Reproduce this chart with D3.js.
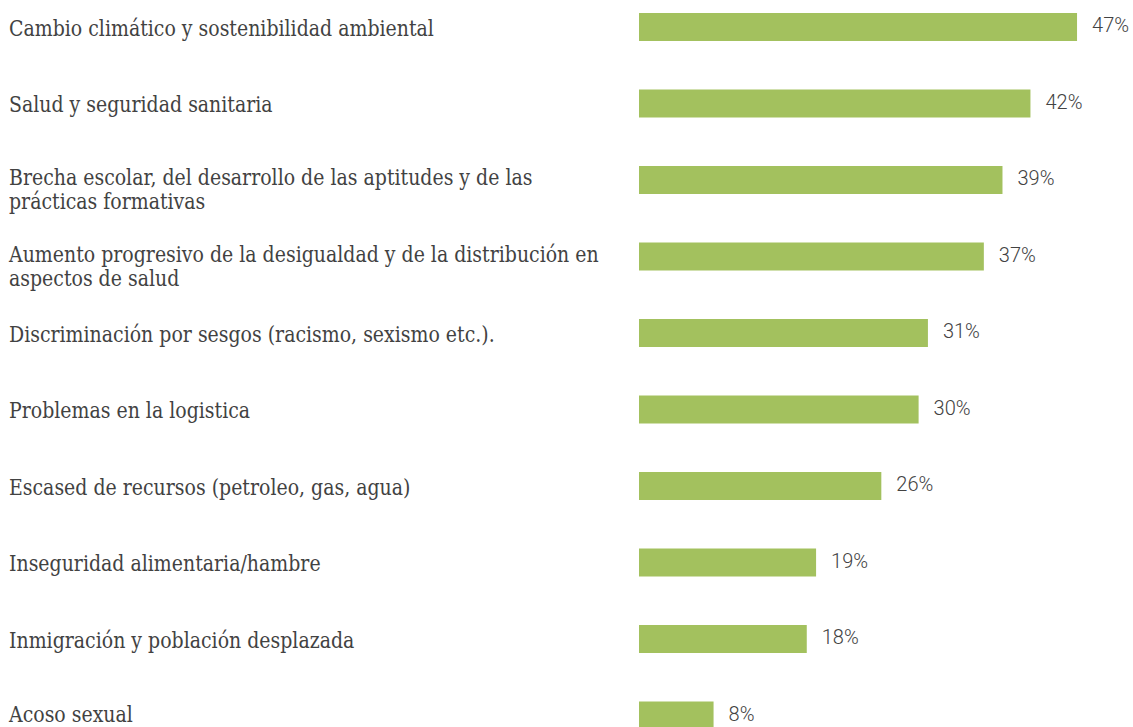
<!DOCTYPE html>
<html>
<head>
<meta charset="utf-8">
<script src="https://cdn.jsdelivr.net/npm/d3@7"></script>
<style>
  html, body { margin: 0; padding: 0; background: #ffffff; }
  svg { display: block; }
</style>
</head>
<body>
<svg id="chart" width="1133" height="727"></svg>
<script>
// Category labels (each entry is the list of lines drawn for that row)
const categories = [
  ["Cambio climático y sostenibilidad ambiental"],
  ["Salud y seguridad sanitaria"],
  ["Brecha escolar, del desarrollo de las aptitudes y de las", "prácticas formativas"],
  ["Aumento progresivo de la desigualdad y de la distribución en", "aspectos de salud"],
  ["Discriminación por sesgos (racismo, sexismo etc.)."],
  ["Problemas en la logistica"],
  ["Escased de recursos (petroleo, gas, agua)"],
  ["Inseguridad alimentaria/hambre"],
  ["Inmigración y población desplazada"],
  ["Acoso sexual"]
];

// Share of respondents, in percent
const values = [47, 42, 39, 37, 31, 30, 26, 19, 18, 8];

// Value labels shown next to each bar
const valueLabels = ["47%", "42%", "39%", "37%", "31%", "30%", "26%", "19%", "18%", "8%"];

const rows = categories.map((lines, i) => ({ id: i, lines, value: values[i], label: valueLabels[i] }));

const svg = d3.select("#chart");

const barColor = "#a3c15e";
const textColor = "#424242";

// Horizontal value scale
const x = d3.scaleLinear().domain([0, 50]).range([639, 639 + 466]);

// Row bands: 28px bars on a ~76.5px step
const rowStep = 76.5;
const barHeight = 28;
const inner = 1 - barHeight / rowStep;
const y = d3.scaleBand()
  .domain(rows.map(d => d.id))
  .range([13, 13 + 9 * rowStep + barHeight])
  .paddingInner(inner)
  .paddingOuter(0);

// Bars
svg.append("g")
  .selectAll("rect")
  .data(rows)
  .join("rect")
  .attr("x", x(0))
  .attr("y", d => y(d.id))
  .attr("width", d => x(d.value) - x(0))
  .attr("height", y.bandwidth())
  .attr("fill", barColor);

// Category labels: a serif narrowed horizontally so the longest
// line spans ~590px
const catG = svg.append("g")
  .attr("font-family", "'DejaVu Serif', serif")
  .attr("font-size", 22.5)
  .attr("fill", textColor);

const probe = catG.append("text").text(categories[3][0]);
const squeeze = 590 / probe.node().getComputedTextLength();
probe.remove();
catG.attr("transform", `translate(9,0) scale(${squeeze},1)`);

catG.selectAll("text")
  .data(rows)
  .join("text")
  .attr("x", 0)
  .attr("y", d => Math.min(y(d.id) + y.bandwidth() / 2 + 9 - (d.lines.length - 1) * 3.5, 722))
  .each(function(d) {
    const t = d3.select(this);
    d.lines.forEach((line, k) => {
      t.append("tspan")
        .attr("x", 0)
        .attr("dy", k === 0 ? 0 : 24)
        .text(line);
    });
  });

// Value labels
svg.append("g")
  .attr("font-family", "Roboto, sans-serif")
  .attr("font-weight", 300)
  .attr("font-size", 20)
  .attr("fill", textColor)
  .selectAll("text")
  .data(rows)
  .join("text")
  .attr("x", d => x(d.value) + 15)
  .attr("y", d => y(d.id) + y.bandwidth() / 2 + 5)
  .text(d => d.label);
</script>
</body>
</html>
